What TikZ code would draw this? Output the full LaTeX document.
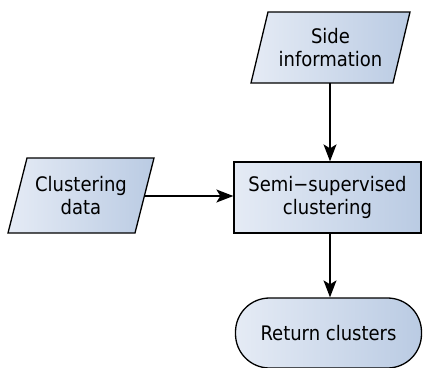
\documentclass[tikz,border=0pt]{standalone}
\usepackage{fontspec}
\setmainfont{DejaVu Sans Condensed}
\usetikzlibrary{arrows.meta,shapes.geometric}
\definecolor{fillL}{RGB}{229,235,245}
\definecolor{fillR}{RGB}{186,203,227}
\begin{document}
\begin{tikzpicture}[x=1pt,y=-1pt,
  box/.style={draw=black,line width=1.3pt,left color=fillL,right color=fillR},
  lbl/.style={font=\fontsize{20}{23}\selectfont,align=center},
  flow/.style={line width=1.3pt,-{Stealth[length=17pt,width=13pt,inset=4pt]}}]
\useasboundingbox (0,0) rectangle (423,367);
% input: side information
\draw[box] (268,12) -- (410,12) -- (393,83) -- (251,83) -- cycle;
\node[lbl] (side) at (330.5,48) {Side\\information};
\coordinate (sideB) at (330,83);
% input: clustering data
\draw[box] (27,158) -- (154,158) -- (135,233) -- (8,233) -- cycle;
\node[lbl] (cdata) at (81,196) {Clustering\\data};
\coordinate (cdataR) at (145,196);
% process box
\node[box,minimum width=187pt,minimum height=71pt,inner sep=0pt] (semi) at (327.5,197.5) {};
\node[lbl] at (semi) {Semi−supervised\\clustering};
% terminal
\node[box,rounded corners=34pt,minimum width=186pt,minimum height=70pt,inner sep=0pt] (ret) at (328.5,333) {};
\node[lbl] at (ret) {Return clusters};
% connectors
\draw[flow] (sideB) -- (semi.north -| sideB);
\draw[flow] (cdataR) -- (semi.west |- cdataR);
\draw[flow] (semi.south -| sideB) -- (ret.north -| sideB);
\end{tikzpicture}
\end{document}
